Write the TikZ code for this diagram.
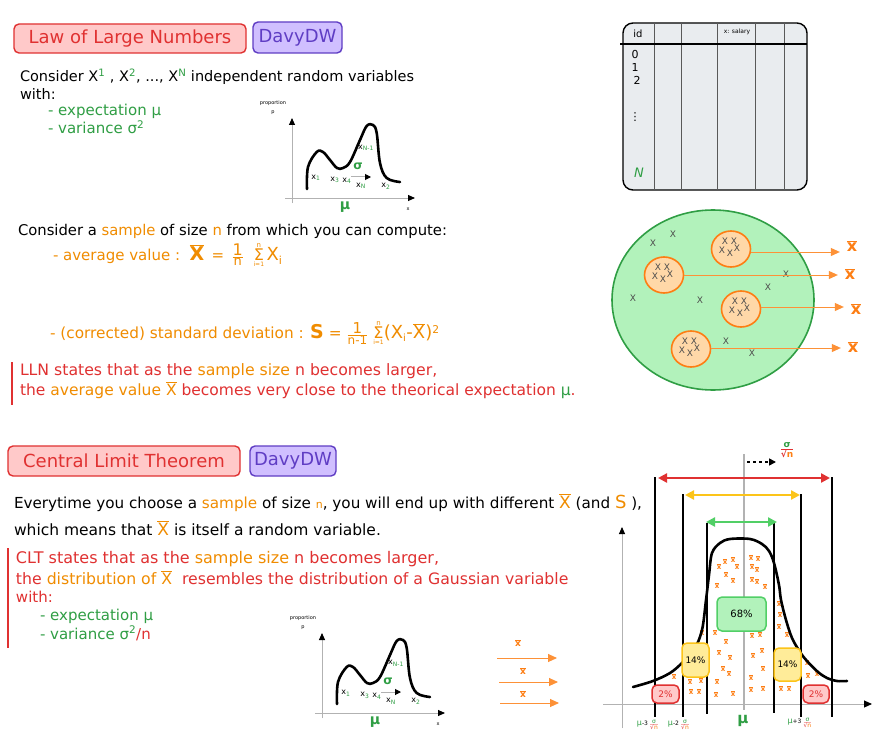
\documentclass[tikz,border=0pt]{standalone}
\usepackage{fontspec}
\setmainfont{DejaVu Sans}
\usetikzlibrary{shapes.geometric,arrows.meta}
\definecolor{cred}{HTML}{E03131}
\definecolor{credfill}{HTML}{FFC9C9}
\definecolor{cpur}{HTML}{5F3DC4}
\definecolor{cpurfill}{HTML}{D0BFFF}
\definecolor{cgreen}{HTML}{2F9E44}
\definecolor{cgreenfill}{HTML}{B2F2BB}
\definecolor{cgreenl}{HTML}{51CF66}
\definecolor{corange}{HTML}{F08C00}
\definecolor{corangeb}{HTML}{FD7E14}
\definecolor{corangefill}{HTML}{FFD8A8}
\definecolor{cyelfill}{HTML}{FFEC99}
\definecolor{cyel}{HTML}{FCC419}
\definecolor{cgray}{HTML}{E9ECEF}
\newcommand\fsz[1]{\fontsize{#1}{#1}\selectfont}
\newcommand\xb[1]{\ensuremath{\overline{\mbox{#1}}}}
\newcommand\sdn[1]{{\color{#1}$\frac{\mbox{\color{cgreen}σ}}{\mbox{\color{cred}√\color{corangeb}n}}$}}
\newcommand\sumop{\ensuremath{\mathop{\mbox{\fsz{16}Σ}}\limits_{\mbox{\fsz{6}i=1}}^{\mbox{\fsz{7}n}}}}
\newcommand\distgraph[1]{%
  \draw[gray!60, line width=0.9pt, -{Triangle[length=7pt,width=6pt,color=black]}] (292,203) -- (292,118);
  \draw[gray!60, line width=0.9pt, -{Triangle[length=7pt,width=6pt,color=black]}] (285,198) -- (415,198);
  \draw[black, line width=2.6pt, line cap=round, line join=round] plot[smooth, tension=0.6] coordinates {(307,189) (308,167) (316.7,152) (323,152) (330,160) (337,168) (343,168) (350,162) (360,140) (366.7,126) (373,125) (376.7,133) (380,163) (386.7,178) (400,182)};
  \node[gl] (#1p1) at (273,103) {proportion};
  \node[gl] (#1p2) at (273,113) {p};
  \node[gl] (#1xl) at (408,209) {x};
  \node[glx] (#1x1) at (316,178) {x\textsubscript{\color{cgreen}1}};
  \node[glx] (#1x3) at (335,180) {x\textsubscript{\color{cgreen}3}};
  \node[glx] (#1x4) at (347,181) {x\textsubscript{\color{cgreen}4}};
  \node[glx] (#1xN) at (361,186) {x\textsubscript{\color{cgreen}N}};
  \node[glx] (#1x2) at (386,186) {x\textsubscript{\color{cgreen}2}};
  \node[glx] (#1xM) at (366,148) {x\textsubscript{\color{cgreen}N-1}};
  \node[text=cgreen, font=\fsz{12}\bfseries] (#1sig) at (358,166) {σ};
  \node[text=cgreen, font=\fsz{14}\bfseries] (#1mu) at (345,207) {μ};
  \coordinate (#1sa) at (351,177);
  \coordinate (#1sb) at (371,177);
  \draw[gray!60, line width=1pt, -{Triangle[length=6pt,width=6pt,color=black]}] (#1sa) -- (#1sb);
}
\tikzset{
  every node/.style={inner sep=0pt, outer sep=0pt},
  tl/.style={anchor=base west, font=\fsz{14.5}},
  titlebox/.style={draw=cred, fill=credfill, line width=1.4pt, rounded corners=5pt, text=cred, font=\fsz{18}},
  authbox/.style={draw=cpur, fill=cpurfill, line width=1.4pt, rounded corners=5pt, text=cpur, font=\fsz{18}},
  gl/.style={font=\fsz{5}},
  glx/.style={font=\fsz{8}},
  samp/.style={ellipse, draw=corangeb, fill=corangefill, line width=1.6pt, minimum width=39pt, minimum height=36pt},
  xs/.style={text=gray!60!black, font=\fsz{9}},
  xbl/.style={text=corangeb, font=\fsz{16}\bfseries},
  oarr/.style={draw=corangeb!85, line width=0.9pt, -{Triangle[length=9pt,width=8pt]}},
  xm/.style={text=corangeb, font=\fsz{7}\bfseries},
  vline/.style={line width=2pt, black},
  pbox/.style={rounded corners=5pt, line width=1.5pt, font=\fsz{9}},
}
\begin{document}
\begin{tikzpicture}[x=1pt,y=-1pt]
\useasboundingbox (0,0) rectangle (888,754);
\fill[white] (0,0) rectangle (888,754);

% ---------- LLN header ----------
\node[titlebox, minimum width=232pt, minimum height=29pt] (lln) at (130,38.5) {Law of Large Numbers};
\node[authbox, minimum width=89pt, minimum height=31pt] (auth1) at (297.5,37.5) {DavyDW};

\node[tl] (t1) at (20,82) {Consider X\textsuperscript{\color{cgreen}1} , X\textsuperscript{\color{cgreen}2}, ..., X\textsuperscript{\color{cgreen}N} independent random variables};
\node[tl] (t2) at (20,100) {with:};
\node[tl, text=cgreen, font=\fsz{15}] (t3) at (48,116) {- expectation μ};
\node[tl, text=cgreen, font=\fsz{15}] (t4) at (48,134) {- variance σ\textsuperscript{2}};

\begin{scope}
\distgraph{ga}
\end{scope}

% ---------- table ----------
\draw[fill=cgray, line width=1.4pt, rounded corners=10pt] (623,23) rectangle (807,190);
\foreach \x in {654,681,717,755,784} \draw[gray!70!black, line width=0.8pt] (\x,23) -- (\x,190);
\draw[line width=1.6pt] (620,44) -- (807,44);
\node[font=\fsz{10}] (tid) at (638,34) {id};
\node[font=\fsz{6}] (tsal) at (737,32) {x: salary};
\node[font=\fsz{11}] (r0) at (635,54) {0};
\node[font=\fsz{11}] (r1) at (635,67) {1};
\node[font=\fsz{11}] (r2) at (637,80) {2};
\node[font=\fsz{11}] (rd) at (635,117) {⋮};
\node[font=\fsz{13}\itshape, text=cgreen] (rN) at (639,173) {N};

% ---------- population ----------
\node[ellipse, draw=cgreen, fill=cgreenfill, line width=1.6pt, minimum width=202pt, minimum height=180pt] (pop) at (713,300) {};
\foreach \p [count=\i] in {(673,234),(653,243),(786,274),(768,287),(633,298),(700,300),(726,341),(752,353)}
  \node[xs] (px\i) at \p {X};
\node[samp] (s1) at (731,249) {};
\node[samp] (s2) at (664,275) {};
\node[samp] (s3) at (741,309) {};
\node[samp] (s4) at (691,349) {};
\foreach \s in {1,2,3,4}{
  \foreach \dx/\dy [count=\j] in {-6/-8,3/-8,-9/1,-1/4,6/-1}
    \node[xs] (sx\s\j) at ([shift={(\dx,\dy)}]s\s.center) {X};
}
\node[xbl] (xb1) at (852,246) {\xb{x}};
\node[xbl] (xb2) at (850,274) {\xb{x}};
\node[xbl] (xb3) at (856,309) {\xb{x}};
\node[xbl] (xb4) at (853,347) {\xb{x}};
\draw[oarr, shorten >=7pt] ([yshift=-3pt]s1.east) -- ([yshift=-3pt]s1.east -| xb1.west);
\draw[oarr, shorten >=7pt] (s2.east) -- (s2.east -| xb2.west);
\draw[oarr, shorten >=7pt] ([yshift=2pt]s3.east) -- ([yshift=2pt]s3.east -| xb3.west);
\draw[oarr, shorten >=7pt] ([yshift=1pt]s4.east) -- ([yshift=1pt]s4.east -| xb4.west);

% ---------- sample text ----------
\node[tl, font=\fsz{14.8}] (t5) at (18,235) {Consider a {\color{corange}sample} of size {\color{corange}n} from which you can compute:};
\node[tl, text=corange, anchor=west, font=\fsz{15}] (t6) at (53,255) {- average value :\ \ {\fsz{19}\bfseries\xb{X}} \,= \,$\frac{\mbox{\fsz{16}1}}{\mbox{\fsz{13}n}}$\ \ \sumop\,{\fsz{18}X}\textsubscript{\fsz{11}i}};
\node[tl, text=corange, anchor=west, font=\fsz{15.3}] (t7) at (50,333) {- (corrected) standard deviation : {\fsz{19}\bfseries S} = $\frac{\mbox{\fsz{15}1}}{\mbox{\fsz{12}n-1}}$ \sumop{\fsz{18}(X}\textsubscript{\fsz{10}i}{\fsz{18}-\xb{X})}\textsuperscript{2}};
\draw[cred, line width=1.5pt] (12,362) -- (12,405);
\node[tl, text=cred, font=\fsz{15.7}] (t8) at (20,375) {LLN states that as the {\color{corange}sample size} n becomes larger,};
\node[tl, text=cred, font=\fsz{15.5}] (t9) at (20,395) {the {\color{corange}average value \xb{X}} becomes very close to the theorical expectation {\color{cgreen}μ}.};

% ---------- CLT header ----------
\node[titlebox, minimum width=232pt, minimum height=30pt] (clt) at (124,461) {Central Limit Theorem};
\node[authbox, minimum width=86pt, minimum height=30pt] (auth2) at (293,461) {DavyDW};
\node[tl, font=\fsz{15.2}] (t10) at (14,508) {Everytime you choose a {\color{corange}sample} of size {\color{corange}\fsz{11}n}, you will end up with different {\color{corange}\fsz{17}\xb{X}} (and {\color{corange}\fsz{18}S} ),};
\node[tl, font=\fsz{15.5}] (t11) at (14,535) {which means that {\color{corange}\fsz{17}\xb{X}} is itself a random variable.};
\draw[cred, line width=1.5pt] (8,548) -- (8,648);
\node[tl, text=cred, font=\fsz{16}] (t12) at (16,563) {CLT states that as the {\color{corange}sample size} n becomes larger,};
\node[tl, text=cred, font=\fsz{15.7}] (t13) at (16,584) {the {\color{corange}distribution of \xb{X}} \ resembles the distribution of a Gaussian variable};
\node[tl, text=cred, font=\fsz{15}] (t14) at (16,602) {with:};
\node[tl, text=cgreen, font=\fsz{15}] (t15) at (40,620) {- expectation μ};
\node[tl, text=cgreen, font=\fsz{15}] (t16) at (40,639) {- variance σ\textsuperscript{2}{\color{cred}/n}};

\begin{scope}[shift={(30,515)}]
\distgraph{gb}
\end{scope}

% arrows of sample means
\coordinate (a1s) at (497,658); \coordinate (a1e) at (557,658);
\coordinate (a2s) at (499,682); \coordinate (a2e) at (558,682);
\coordinate (a3s) at (500,703); \coordinate (a3e) at (559,703);
\draw[oarr] (a1s) -- (a1e);
\draw[oarr] (a2s) -- (a2e);
\draw[oarr] (a3s) -- (a3e);
\node[xm, font=\fsz{9}\bfseries] (bx1) at (518,643) {\xb{x}};
\node[xm, font=\fsz{9}\bfseries] (bx2) at (523,671) {\xb{x}};
\node[xm, font=\fsz{9}\bfseries] (bx3) at (523,694) {\xb{x}};

% ---------- Gaussian ----------
\draw[gray!60, line width=0.9pt, -{Triangle[length=7pt,width=6pt,color=black]}] (622,728) -- (622,527);
\draw[gray!60, line width=0.9pt, -{Triangle[length=8pt,width=7pt,color=black]}] (603,704) -- (872,704);
\draw[gray!60, line width=1.2pt] (744,454) -- (744,710);
\foreach \p [count=\i] in {(725,562),(733,560),(719,567),(737,567),(726,575),(733,581),(717,586),(751,558),(758,559),(752,567),(757,570),(752,580),(757,582),(765,587),(702,633),(715,633),(726,642),(752,636),(760,635),(719,653),(730,658),(753,656),(762,651),(723,669),(729,674),(751,678),(763,669),(717,682),(733,694),(716,695),(751,690),(763,689),(674,677),(690,682),(701,681),(691,692),(699,692),(779,604),(780,615),(779,627),(787,635),(807,663),(808,676),(817,674),(781,689),(789,689)}
  \node[xm] (m\i) at \p {\xb{x}};
\draw[black, line width=2.6pt, line cap=round, line join=round] plot[smooth, tension=0.55] coordinates {(633,687) (653,681) (670,673) (682,663) (694,650) (702,630) (706,600) (709,575) (712,553) (720,543) (730,539) (750,539) (762,544) (769,551) (774,563) (779,585) (781,600) (786,620) (792,638) (800,652) (807,661) (818,672) (827,678) (837,681) (847,681)};
\draw[vline] (655,477) -- (655,717);
\draw[vline] (683,494) -- (683,717);
\draw[vline] (707,523) -- (707,714);
\draw[vline] (774,523) -- (774,713);
\draw[vline] (801,494) -- (801,717);
\draw[vline] (832,477) -- (832,717);
\coordinate (r1) at (658,478); \coordinate (r2) at (830,478);
\coordinate (y1) at (685,495); \coordinate (y2) at (800,495);
\coordinate (g1) at (706,522); \coordinate (g2) at (777,522);
\draw[cred, line width=2.6pt, {Triangle[length=9pt,width=9pt]}-{Triangle[length=9pt,width=9pt]}] (r1) -- (r2);
\draw[cyel, line width=2.6pt, {Triangle[length=9pt,width=9pt]}-{Triangle[length=9pt,width=9pt]}] (y1) -- (y2);
\draw[cgreenl, line width=2.6pt, {Triangle[length=9pt,width=9pt]}-{Triangle[length=9pt,width=9pt]}] (g1) -- (g2);
\coordinate (d1) at (747,462); \coordinate (d2) at (776,462);
\draw[black, line width=1.6pt, dashed, -{Triangle[length=7pt,width=7pt]}] (d1) -- (d2);
\node[font=\fsz{9}\bfseries] (sdtop) at (787,450) {\sdn{cred}};
\node[pbox, draw=cgreenl, fill=cgreenfill, minimum width=49pt, minimum height=34pt, font=\fsz{10}] (p68) at (741.5,614) {68\%};
\node[pbox, draw=cyel, fill=cyelfill, minimum width=27pt, minimum height=34pt] (p14a) at (695.5,660) {14\%};
\node[pbox, draw=cyel, fill=cyelfill, minimum width=27pt, minimum height=33pt] (p14b) at (787.5,664.5) {14\%};
\node[pbox, draw=cred, fill=credfill, text=cred, minimum width=27pt, minimum height=18pt] (p2a) at (665.5,694) {2\%};
\node[pbox, draw=cred, fill=credfill, text=cred, minimum width=26pt, minimum height=18pt] (p2b) at (816,694) {2\%};
\node[font=\fsz{6}] (lb1) at (648,725) {{\color{cgreen}\fsz{8}μ}-3\,\sdn{cred!40}};
\node[font=\fsz{6}] (lb2) at (679,725) {{\color{cgreen}\fsz{8}μ}-2\,\sdn{cred!40}};
\node[text=cgreen, font=\fsz{15}\bfseries] (lbm) at (743,721) {μ};
\node[font=\fsz{6}] (lb3) at (800,723) {{\color{cgreen}\fsz{8}μ}+3\,\sdn{cred!40}};
\end{tikzpicture}
\end{document}
